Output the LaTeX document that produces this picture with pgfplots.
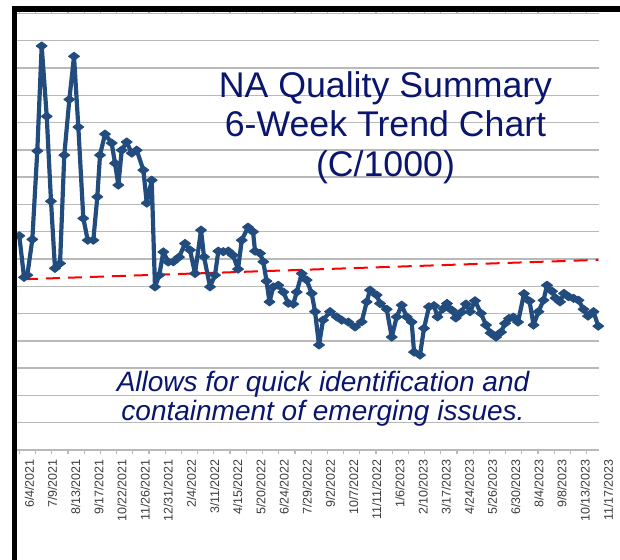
\documentclass[border=0pt]{standalone}
\usepackage{fontspec}
\setmainfont{Liberation Sans}
\usepackage{pgfplots}
\pgfplotsset{compat=1.18}
\definecolor{series}{RGB}{34,76,126}
\definecolor{navy}{RGB}{10,22,110}
\definecolor{gridc}{RGB}{185,185,185}
\definecolor{lbl}{RGB}{60,60,60}
\begin{document}
\begin{tikzpicture}
\useasboundingbox (0,0) rectangle (620bp,-560bp);
\begin{axis}[
  at={(17bp,-450bp)}, anchor=south west,
  scale only axis, width=582bp, height=436.5bp,
  xmin=-0.5, xmax=125.15, ymin=0, ymax=16,
  axis line style={draw=none},
  clip=false,
  ytick={0,1,...,16}, yticklabels={}, ymajorgrids,
  grid style={gridc, line width=1.4bp},
  xtick={0,5,...,125},
  xticklabels={6/4/2021,7/9/2021,8/13/2021,9/17/2021,10/22/2021,11/26/2021,12/31/2021,2/4/2022,3/11/2022,4/15/2022,5/20/2022,6/24/2022,7/29/2022,9/2/2022,10/7/2022,11/11/2022,1/6/2023,2/10/2023,3/17/2023,4/24/2023,5/26/2023,6/30/2023,8/4/2023,9/8/2023,10/13/2023,11/17/2023},
  major tick length=0pt,
  minor xtick={0,3.5,...,125},
  minor tick length=4bp,
  tick align=outside,
  minor tick style={gridc, line width=1.2bp},
  xticklabel style={rotate=90, anchor=east, font=\fontsize{12.5bp}{12.5bp}\selectfont, text=lbl, inner sep=0pt, yshift=-10bp, xshift=-9bp},
]
\addplot[red, line width=2bp, dash pattern=on 14bp off 8bp] coordinates {(1,6.26) (125,6.97)};
\addplot[series, line width=4.2bp, line join=round, mark=diamond*, mark size=5.4bp,
  mark options={rotate=90, solid, fill=series, draw=series, line width=1bp}] table {
x y
0.00 7.85
1.02 6.33
1.73 6.41
2.81 7.72
3.88 10.96
4.83 14.81
5.92 12.23
6.84 9.12
7.70 6.66
8.79 6.84
9.71 10.81
10.80 12.85
11.81 14.43
12.74 11.84
13.82 8.49
14.77 7.69
15.98 7.69
16.84 9.28
17.42 10.81
18.50 11.58
19.94 11.25
20.66 10.51
21.38 9.71
22.11 10.99
23.18 11.29
24.27 10.88
25.34 10.99
26.78 10.26
27.51 9.05
28.58 9.89
29.29 5.98
30.22 6.41
31.09 7.26
32.16 6.89
33.25 6.90
34.48 7.07
35.78 7.57
36.85 7.33
37.93 6.47
39.23 8.06
39.88 7.08
41.17 5.98
42.25 6.41
42.96 7.29
44.04 7.27
45.12 7.29
46.13 7.14
47.22 6.63
48.02 7.69
49.37 8.17
50.46 8.00
50.89 7.29
51.97 7.21
52.68 6.90
53.37 6.19
54.01 5.43
54.84 5.98
55.91 6.04
57.00 5.79
58.07 5.38
59.15 5.35
59.89 5.79
60.97 6.47
62.04 6.23
63.13 5.74
63.84 5.07
64.70 3.85
65.57 4.76
67.08 5.07
68.53 4.88
69.60 4.76
71.03 4.69
72.48 4.51
73.92 4.70
75.00 5.43
75.71 5.86
77.15 5.68
77.88 5.37
79.32 5.16
80.40 4.14
81.48 4.88
82.55 5.31
83.64 4.88
84.71 4.69
85.22 3.59
86.50 3.48
87.37 4.46
88.45 5.25
89.53 5.29
90.29 4.88
91.54 5.19
92.33 5.37
93.35 5.13
94.24 4.84
95.36 5.04
96.43 5.35
97.30 5.07
98.38 5.47
99.67 5.01
100.76 4.58
101.73 4.29
102.91 4.14
104.00 4.32
104.86 4.64
105.72 4.82
106.65 4.87
107.67 4.69
108.96 5.73
110.15 5.46
111.01 4.58
112.08 5.07
113.17 5.49
113.92 6.04
115.01 5.82
115.76 5.57
116.74 5.43
117.59 5.74
118.57 5.62
119.65 5.56
120.72 5.49
121.81 5.16
122.78 4.91
123.96 5.07
125.00 4.54
};
\end{axis}
% slide frame
\draw[black, line width=5bp] (14.5bp,-560bp) -- (14.5bp,-8.8bp);
\draw[black, line width=5.5bp] (12bp,-8.8bp) -- (620bp,-8.8bp);
% title
\begin{scope}[every node/.style={inner sep=0pt, text=navy, font=\fontsize{35.7bp}{40bp}\selectfont, anchor=base}]
\node at (385.5bp,-97bp) {NA Quality Summary};
\node at (385.5bp,-136.7bp) {6-Week Trend Chart};
\node at (385.5bp,-176.7bp) {(C/1000)};
\end{scope}
\begin{scope}[every node/.style={inner sep=0pt, text=navy, font=\fontsize{28bp}{28bp}\itshape\selectfont, anchor=base}]
\node at (323bp,-391.7bp) {Allows for quick identification and};
\node at (323bp,-420bp) {containment of emerging issues.};
\end{scope}
\end{tikzpicture}
\end{document}
